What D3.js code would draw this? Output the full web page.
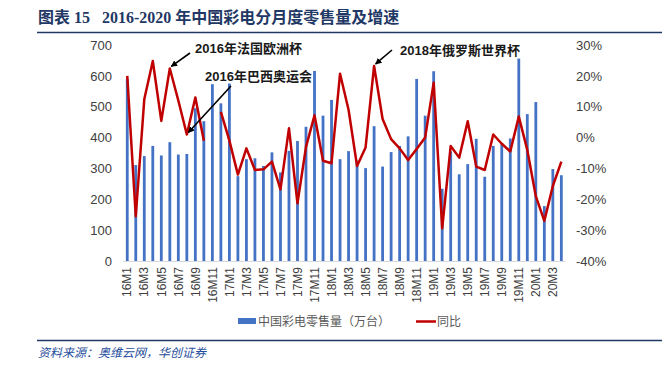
<!DOCTYPE html>
<html>
<head>
<meta charset="utf-8">
<script src="https://cdn.jsdelivr.net/npm/d3@7"></script>
<style>
  body { margin: 0; background: #fff; }
  text { font-family: "Liberation Sans", Arial, "Noto Sans CJK SC", sans-serif; }
</style>
</head>
<body>
<script>
const W = 671, H = 374;

// months 16M1 .. 20M4
const months = [];
for (let y = 16; y <= 20; y++) for (let m = 1; m <= 12; m++) { if (y === 20 && m > 4) break; months.push(y + "M" + m); }

const sales = [590,311,340,373,342,385,345,347,495,453,573,511,
               575,275,330,333,308,352,287,357,389,435,616,471,
               522,330,356,325,301,437,306,353,373,404,590,471,
               615,234,355,281,314,396,273,373,382,397,656,476,
               515,178,298,278];

const yoy = [20,-25.5,12.4,24.8,5.4,22.4,12,1,13,-1,null,8.3,
             -1,-12,-3.5,-10.5,-10.3,-7.8,-16.8,3,-21.3,-3,7.2,-7.5,
             -8.3,20.7,9,-9.2,-3.2,23.2,6,-0.5,-3.5,-7.3,-3.7,0,
             17.8,-29.4,-2.7,-6.5,5.3,-9.4,-10.5,1,-2,-4.5,6.8,-4,
             -19,-27,-15.7,-7.8];

const leftTicks = [0,100,200,300,400,500,600,700];
const rightTicks = [-40,-30,-20,-10,0,10,20,30];

const notes = [
  {text: "2016年法国欧洲杯", idx: 5, tx: 195, ty: 53, ax: 190, ay: 53},
  {text: "2016年巴西奥运会", idx: 7, tx: 205, ty: 81, ax: 231, ay: 86},
  {text: "2018年俄罗斯世界杯", idx: 29, tx: 400, ty: 55, ax: 392, ay: 50}
];

const svg = d3.select("body").append("svg").attr("width", W).attr("height", H);

// title
svg.append("text").attr("x", 38).attr("y", 23)
  .attr("fill", "#1f3864").attr("font-size", 16).attr("font-weight", "bold")
  .style("font-family", "'Liberation Serif', 'Noto Sans CJK SC', serif")
  .text("图表 15\u00a0\u00a0\u00a02016-2020 年中国彩电分月度零售量及增速");
svg.append("line").attr("x1", 37).attr("x2", 662).attr("y1", 32.5).attr("y2", 32.5)
  .attr("stroke", "#1f3864").attr("stroke-width", 1.5);

const x = d3.scaleBand().domain(months).range([123, 565.6]).padding(0);
const yL = d3.scaleLinear().domain([0, 700]).range([261, 45]);
const yR = d3.scaleLinear().domain([-40, 30]).range([261, 45]);
const cx = d => x(d) + x.bandwidth() / 2;

// bars
svg.append("g").selectAll("rect").data(sales).join("rect")
  .attr("x", (d, i) => cx(months[i]) - 1.4)
  .attr("width", 2.8)
  .attr("y", d => yL(d))
  .attr("height", d => yL(0) - yL(d))
  .attr("fill", "#4472c4");

// baseline
svg.append("line").attr("x1", 123).attr("x2", 565.6).attr("y1", 261.5).attr("y2", 261.5)
  .attr("stroke", "#d9d9d9").attr("stroke-width", 1);

// left axis
const gl = svg.append("g").attr("transform", "translate(112,0)")
  .call(d3.axisLeft(yL).tickValues(leftTicks).tickSize(0).tickPadding(0));
gl.select(".domain").remove();
gl.selectAll("text").attr("font-size", 13).attr("fill", "#404040")
  .style("font-family", "'Liberation Sans', Arial, sans-serif");

// right axis
const gr = svg.append("g").attr("transform", "translate(576,0)")
  .call(d3.axisRight(yR).tickValues(rightTicks).tickSize(0).tickPadding(0).tickFormat(d => d + "%"));
gr.select(".domain").remove();
gr.selectAll("text").attr("font-size", 13).attr("fill", "#404040")
  .style("font-family", "'Liberation Sans', Arial, sans-serif");

// x labels
const xl = svg.append("g").attr("transform", "translate(0,265)")
  .call(d3.axisBottom(x).tickValues(months.filter((d, i) => i % 2 === 0)).tickSize(0).tickPadding(0));
xl.select(".domain").remove();
xl.selectAll("text")
  .attr("transform", "rotate(-90)")
  .attr("text-anchor", "end").attr("dy", "0.35em").attr("x", -2).attr("y", 0)
  .attr("font-size", 12).attr("fill", "#404040")
  .style("font-family", "'Liberation Sans', Arial, sans-serif");

// line
const line = d3.line()
  .defined(d => d != null)
  .x((d, i) => cx(months[i]))
  .y(d => yR(d));
svg.append("path").datum(yoy)
  .attr("d", line)
  .attr("fill", "none").attr("stroke", "#c00000").attr("stroke-width", 2.5)
  .attr("stroke-linejoin", "round");

// annotations
svg.append("defs").append("marker").attr("id", "ah")
  .attr("viewBox", "0 0 10 10").attr("refX", 9).attr("refY", 5)
  .attr("markerWidth", 4).attr("markerHeight", 4).attr("orient", "auto")
  .append("path").attr("d", "M0,0L10,5L0,10z").attr("fill", "#000");

notes.forEach(n => {
  svg.append("line")
    .attr("x1", n.ax).attr("y1", n.ay)
    .attr("x2", cx(months[n.idx]) + 1.5).attr("y2", yR(yoy[n.idx]) - 2)
    .attr("stroke", "#000").attr("stroke-width", 1.6)
    .attr("marker-end", "url(#ah)");
  svg.append("text").attr("x", n.tx).attr("y", n.ty)
    .attr("font-size", 13).attr("font-weight", "bold").attr("fill", "#1a1a1a")
    .text(n.text);
});

// legend
const lg = svg.append("g").attr("transform", "translate(238,321)");
lg.append("rect").attr("x", 0).attr("y", -3).attr("width", 18).attr("height", 6).attr("fill", "#4472c4");
lg.append("text").attr("x", 20).attr("y", 4.5).attr("font-size", 12).attr("fill", "#595959")
  .style("font-family", "'Noto Sans CJK SC', sans-serif").text("中国彩电零售量（万台）");
lg.append("line").attr("x1", 178).attr("x2", 198).attr("y1", 0.5).attr("y2", 0.5)
  .attr("stroke", "#c00000").attr("stroke-width", 2.5);
lg.append("text").attr("x", 199).attr("y", 4.5).attr("font-size", 12).attr("fill", "#595959")
  .style("font-family", "'Noto Sans CJK SC', sans-serif").text("同比");

// footer
svg.append("line").attr("x1", 37).attr("x2", 662).attr("y1", 340.5).attr("y2", 340.5)
  .attr("stroke", "#1f3864").attr("stroke-width", 1.5);
svg.append("text").attr("x", 38).attr("y", 357)
  .attr("font-size", 12).attr("font-style", "italic").attr("fill", "#1f4e9c")
  .style("font-family", "'Noto Sans CJK SC', sans-serif")
  .text("资料来源：奥维云网，华创证券");
</script>
</body>
</html>
